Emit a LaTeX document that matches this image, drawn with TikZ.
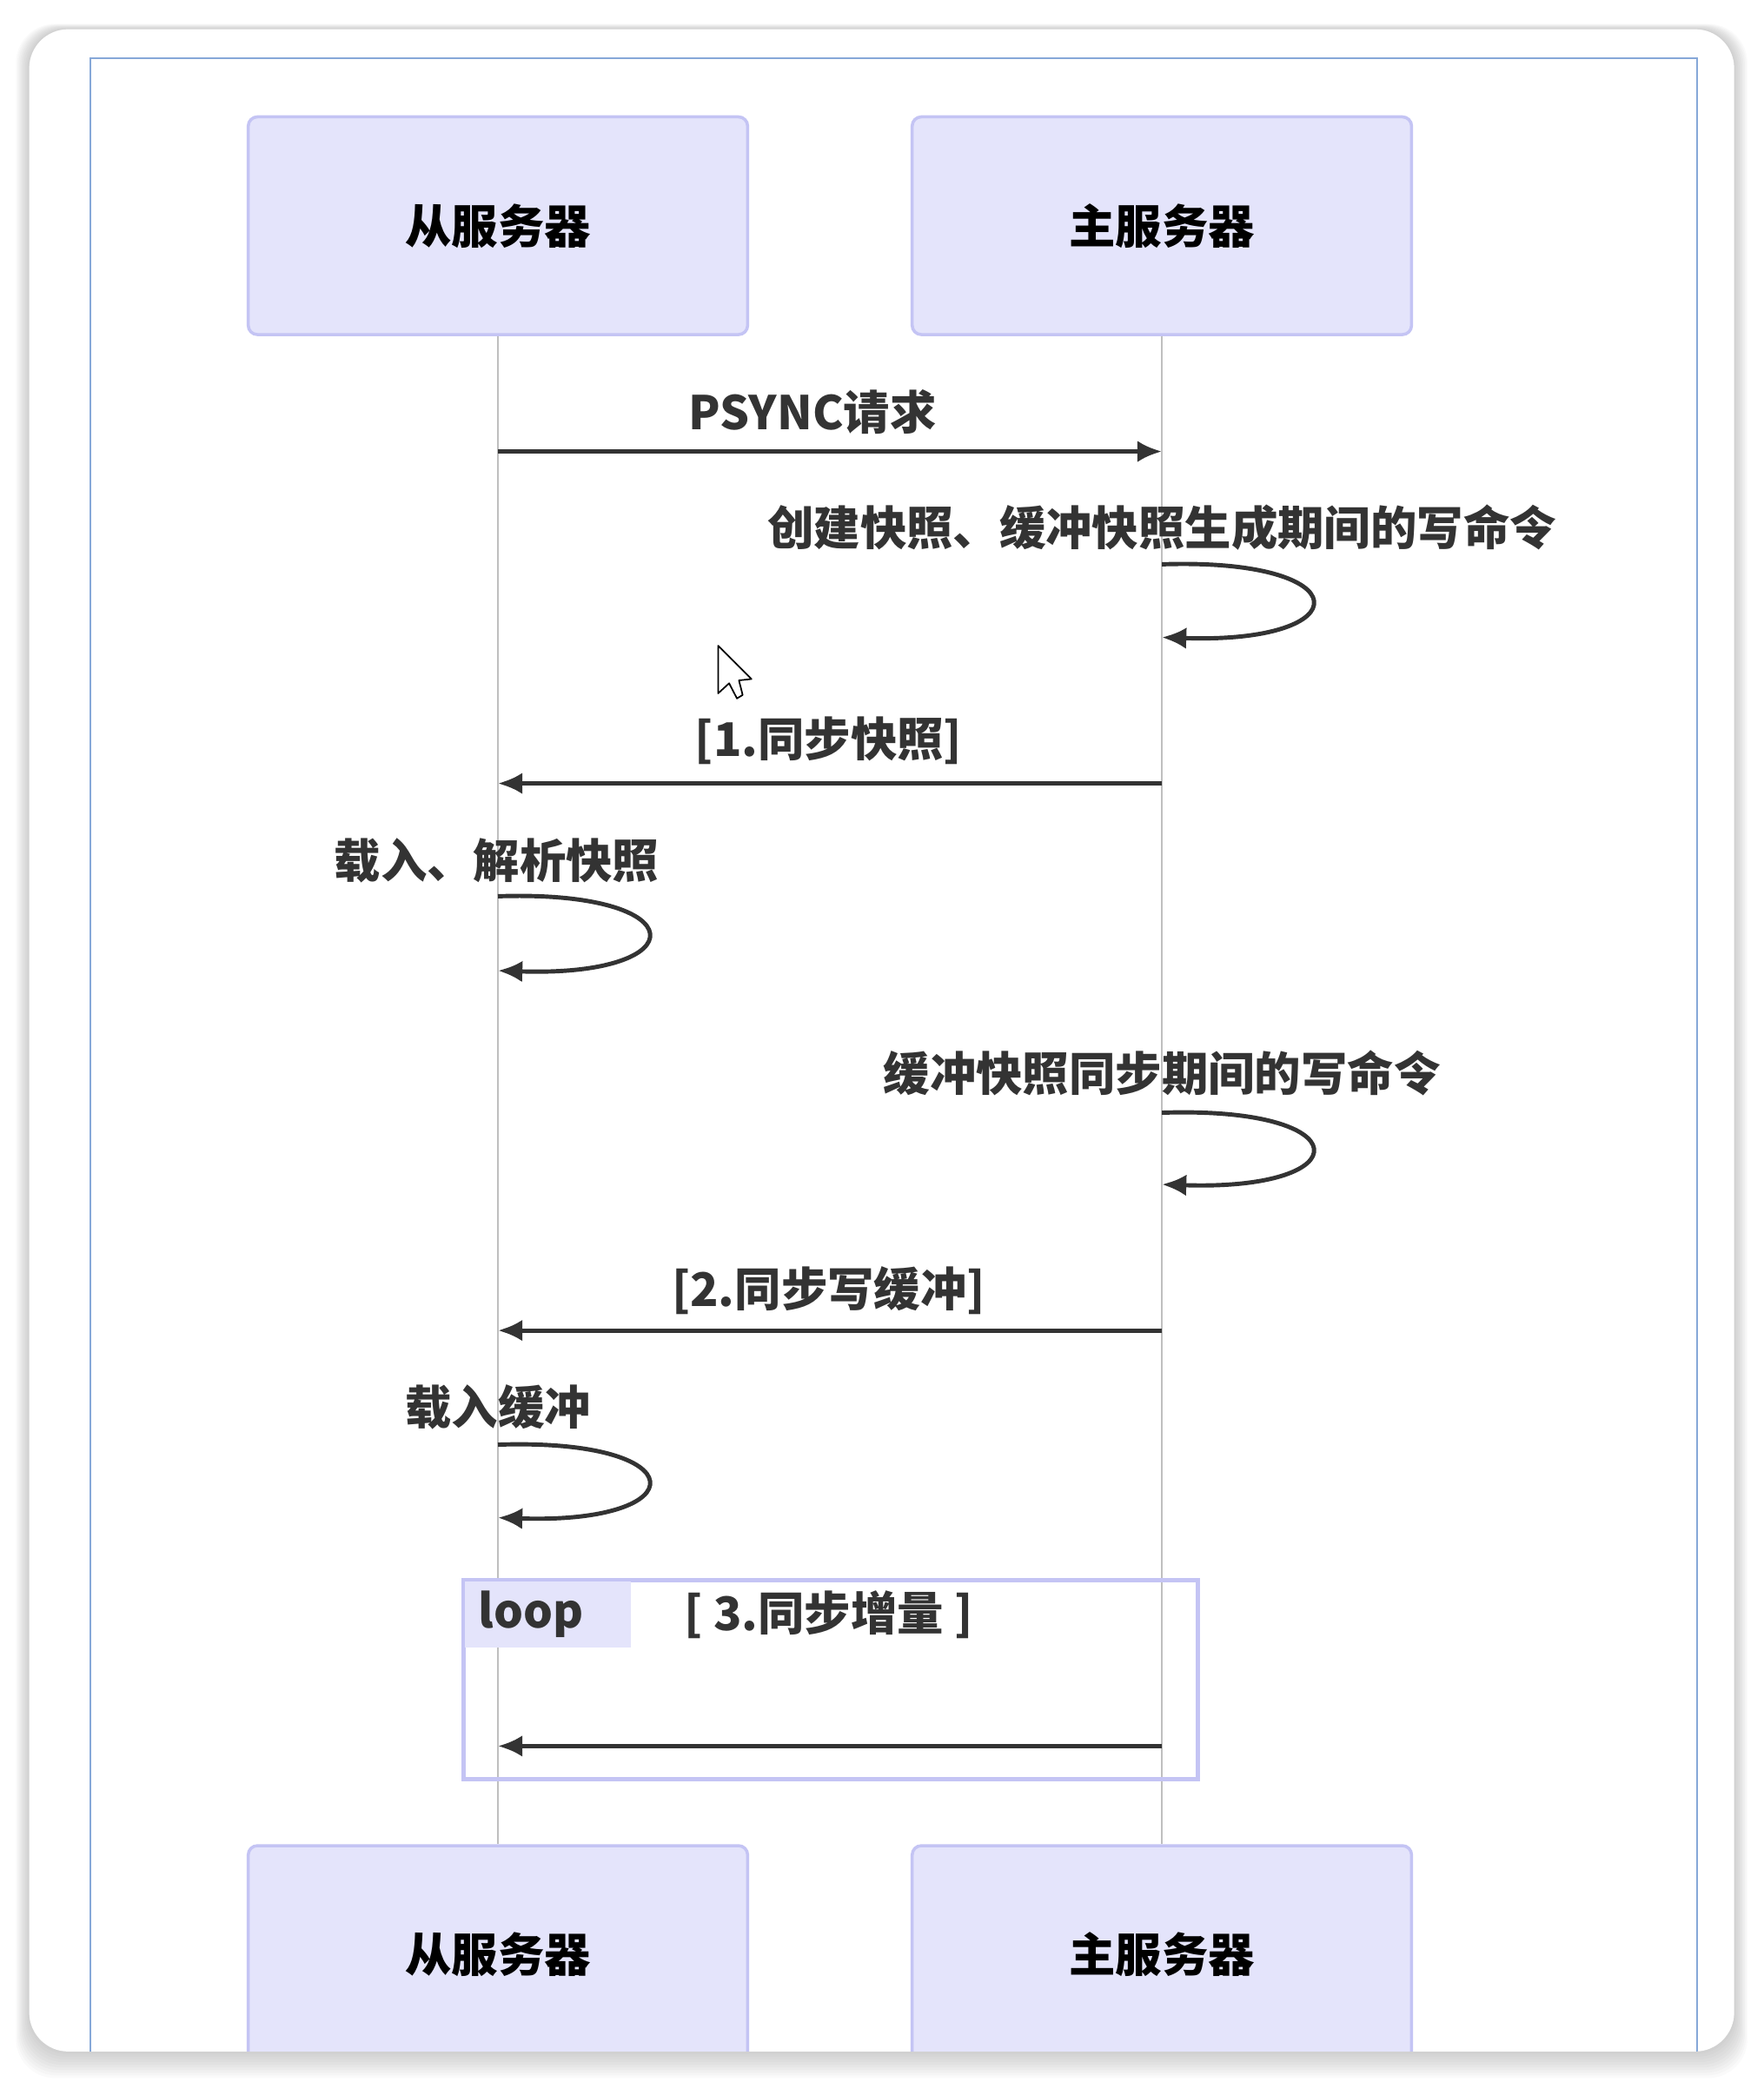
\documentclass[tikz,border=0pt]{standalone}
\usepackage{fontspec}
\newfontfamily\cjk{Noto Sans CJK SC}
\usetikzlibrary{arrows.meta}
\definecolor{lavande}{HTML}{E4E4FB}
\definecolor{bordlav}{HTML}{C4C4F4}
\definecolor{ligne}{HTML}{333333}
\definecolor{cadre}{HTML}{86A8D8}

\begin{document}
\begin{tikzpicture}[x=0.015286cm, y=-0.015286cm]
\tikzset{acteur/.style={draw=bordlav, fill=lavande, rounded corners=3pt, line width=1pt,
    minimum width=5.75cm, minimum height=2.507cm, font=\cjk\bfseries\fontsize{15.2}{18}\selectfont},
  texte/.style={inner sep=0pt, font=\cjk\bfseries\fontsize{15.2}{18}\selectfont, text=ligne},
  msg/.style={draw=ligne, line width=1.4pt, -{Latex[length=8pt, width=7pt]}},
  vie/.style={draw=black!25, line width=0.7pt}}
\useasboundingbox (0,0) rectangle (1328,1568);
% ombre de la carte
\foreach \i in {1,...,10}
  \fill[black, opacity=0.02, rounded corners=0.45cm] (22-\i,22-\i+0.6*\i) rectangle (1306+\i,1545+2*\i);
\fill[white, rounded corners=0.45cm] (22,22) rectangle (1306,1545);
\begin{scope}
\clip[rounded corners=0.45cm] (22,22) rectangle (1306,1545);
\draw[cadre, line width=0.7pt] (68,1600) -- (68,44) -- (1278,44) -- (1278,1600);
% participants
\node[acteur] (S1) at (375,170) {从服务器};
\node[acteur] (M1) at (875,170) {主服务器};
\node[acteur] (S2) at (375,1472) {从服务器};
\node[acteur] (M2) at (875,1472) {主服务器};
\draw[vie] (S1) -- (S2);
\draw[vie] (M1) -- (M2);
% messages
\coordinate (a1) at (375,340);
\coordinate (a2) at (875,340);
\node[texte] (t1) at (612,310) {PSYNC请求};
\draw[msg] (a1) -- (a2);
\coordinate (b1) at (875,425);
\coordinate (b2) at (875,480);
\node[texte] (t2) at (875,397) {创建快照、缓冲快照生成期间的写命令};
\draw[msg] (b1) .. controls (1025,420) and (1025,485) .. (b2);
\coordinate (c1) at (875,590);
\coordinate (c2) at (375,590);
\node[texte] (t3) at (624,558) {[1.同步快照]};
\draw[msg] (c1) -- (c2);
\coordinate (d1) at (375,675);
\coordinate (d2) at (375,731);
\node[texte] (t4) at (374,648) {载入、解析快照};
\draw[msg] (d1) .. controls (525,670) and (525,736) .. (d2);
\coordinate (e1) at (875,838);
\coordinate (e2) at (875,892);
\node[texte] (t5) at (875,808) {缓冲快照同步期间的写命令};
\draw[msg] (e1) .. controls (1025,833) and (1025,897) .. (e2);
\coordinate (f1) at (875,1002);
\coordinate (f2) at (375,1002);
\node[texte] (t6) at (624,972) {[2.同步写缓冲]};
\draw[msg] (f1) -- (f2);
\coordinate (g1) at (375,1088);
\coordinate (g2) at (375,1143);
\node[texte] (t7) at (375,1060) {载入缓冲};
\draw[msg] (g1) .. controls (525,1083) and (525,1148) .. (g2);
% boucle
\draw[bordlav, line width=1.4pt] (349,1190) rectangle (902,1340);
\fill[lavande] (350,1191) rectangle (475,1241);
\node[texte] (lp) at (400,1216) {loop};
\node[texte] (t8) at (624,1216) {[ 3.同步增量 ]};
\coordinate (h1) at (875,1315);
\coordinate (h2) at (375,1315);
\draw[msg] (h1) -- (h2);
% curseur
\draw[black, fill=white, line width=0.5pt, line join=round] (540.8,486.3) -- (540.8,522.2) -- (549.1,514.6)
  -- (555,526) -- (559.3,523.4) -- (556.5,512.4) -- (565.9,511.4) -- cycle;
\end{scope}
\end{tikzpicture}
\end{document}
